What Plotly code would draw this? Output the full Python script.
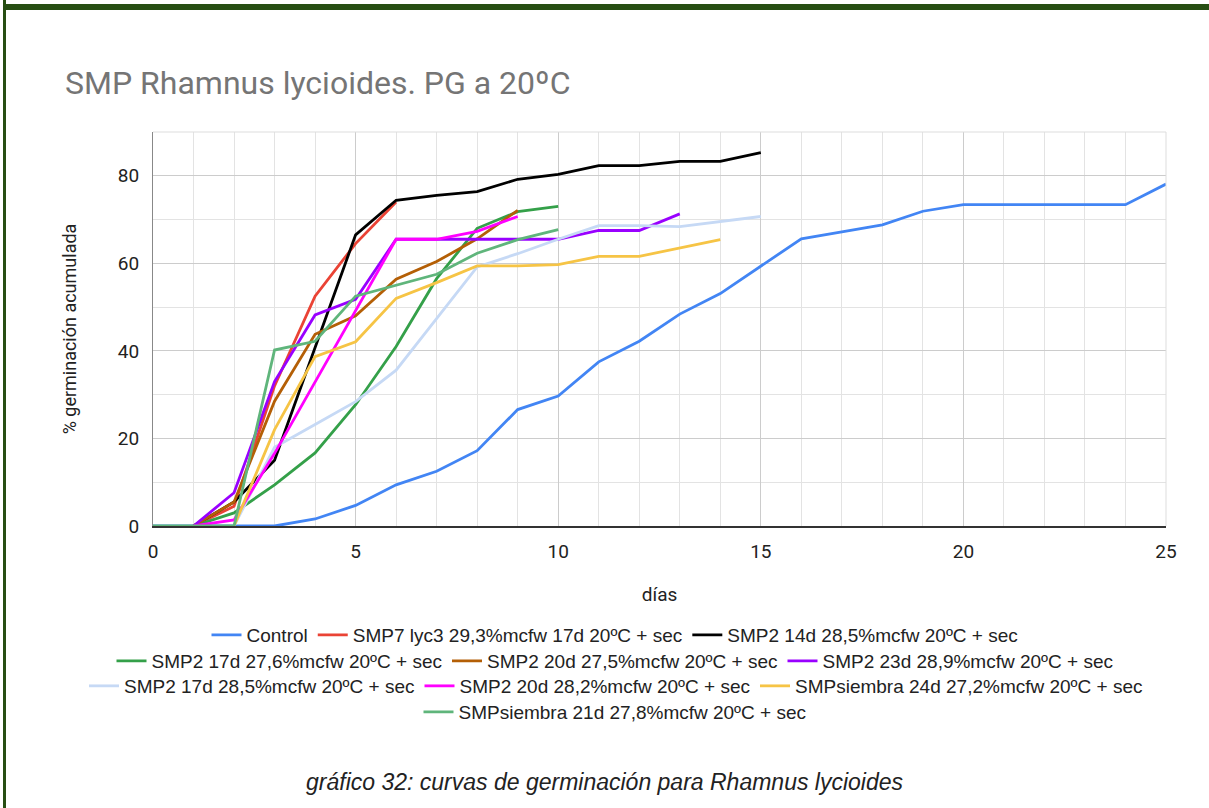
import plotly.graph_objects as go

# ---- data ----
names = [
    "Control",
    "SMP7 lyc3 29,3%mcfw 17d 20ºC + sec",
    "SMP2 14d 28,5%mcfw 20ºC + sec",
    "SMP2 17d 27,6%mcfw 20ºC + sec",
    "SMP2 20d 27,5%mcfw 20ºC + sec",
    "SMP2 23d 28,9%mcfw 20ºC + sec",
    "SMP2 17d 28,5%mcfw 20ºC + sec",
    "SMP2 20d 28,2%mcfw 20ºC + sec",
    "SMPsiembra 24d 27,2%mcfw 20ºC + sec",
    "SMPsiembra 21d 27,8%mcfw 20ºC + sec",
]

control_days = list(range(0, 26))
control_vals = [0, 0, 0, 0, 1.6, 4.7, 9.4, 12.5, 17.2, 26.6, 29.7, 37.5, 42.2, 48.4,
                53.1, 59.4, 65.6, 67.2, 68.8, 71.9, 73.4, 73.4, 73.4, 73.4, 73.4, 78.1]

smp7_days = list(range(1, 7))
smp7_vals = [0, 4.5, 32, 52.5, 64.5, 74]

smp2_14d_days = list(range(1, 16))
smp2_14d_vals = [0, 5.5, 15, 41, 66.5, 74.4, 75.5, 76.4, 79.2, 80.3, 82.3, 82.3, 83.3, 83.3, 85.3]

smp2_17d_276_days = list(range(1, 11))
smp2_17d_276_vals = [0, 3, 9.4, 16.7, 27.7, 41, 56.5, 68, 71.8, 73]

smp2_20d_275_days = list(range(1, 10))
smp2_20d_275_vals = [0, 5.5, 28.5, 43.8, 48, 56.4, 60.4, 65.6, 72.1]

smp2_23d_days = list(range(1, 14))
smp2_23d_vals = [0, 7.6, 33, 48.2, 51.8, 65.5, 65.5, 65.5, 65.5, 65.5, 67.5, 67.5, 71.3]

smp2_17d_285_days = list(range(2, 16))
smp2_17d_285_vals = [0, 18, 23.2, 28.4, 35.6, 47.5, 59.2, 62.2, 65.5, 68.6, 68.6, 68.4, 69.6, 70.7]

smp2_20d_282_days = list(range(1, 10))
smp2_20d_282_vals = [0, 1.4, 16.6, 33, 49.3, 65.5, 65.5, 67.3, 70.7]

siembra_24d_days = list(range(2, 15))
siembra_24d_vals = [0, 22, 38.7, 42.1, 52, 55.6, 59.4, 59.4, 59.7, 61.6, 61.6, 63.5, 65.4]

siembra_21d_days = list(range(0, 11))
siembra_21d_vals = [0, 0, 0, 40.2, 42.2, 52.5, 55, 57.5, 62.3, 65.4, 67.7]

colors = ["#4285f4", "#ea4335", "#000000", "#34a049", "#b45f06",
          "#9900ff", "#c6d9f5", "#ff00ff", "#f6c445", "#5fb57b"]

series_x = [control_days, smp7_days, smp2_14d_days, smp2_17d_276_days, smp2_20d_275_days,
            smp2_23d_days, smp2_17d_285_days, smp2_20d_282_days, siembra_24d_days, siembra_21d_days]
series_y = [control_vals, smp7_vals, smp2_14d_vals, smp2_17d_276_vals, smp2_20d_275_vals,
            smp2_23d_vals, smp2_17d_285_vals, smp2_20d_282_vals, siembra_24d_vals, siembra_21d_vals]

legend_rows = ["legend", "legend", "legend",
               "legend2", "legend2", "legend2",
               "legend3", "legend3", "legend3",
               "legend4"]

# ---- figure geometry (pixels) ----
W, H = 1209, 808
L, R, T, B = 153, 43, 132, 282
PW, PH = W - L - R, H - T - B


def px_x(p):
    return (p - L) / PW


def px_y(p):
    return (H - B - p) / PH


fig = go.Figure()
for n, xs, ys, c, lg in zip(names, series_x, series_y, colors, legend_rows):
    fig.add_trace(go.Scatter(x=xs, y=ys, mode="lines", name=n,
                             line=dict(color=c, width=2.8), legend=lg))

legend_font = dict(family="Liberation Sans, Arial, sans-serif", size=19, color="#222222")
axis_font = dict(family="Roboto, Arial, sans-serif", size=19, color="#222222")


def leg(ypix, left=None):
    d = dict(orientation="h", xref="paper", yref="paper", y=px_y(ypix), yanchor="middle",
             font=legend_font, bgcolor="rgba(0,0,0,0)", itemwidth=30, traceorder="normal")
    if left is None:
        d.update(x=px_x(615), xanchor="center")
    else:
        d.update(x=px_x(left), xanchor="left")
    return d


fig.update_layout(
    width=W, height=H,
    margin=dict(l=L, r=R, t=T, b=B),
    paper_bgcolor="white", plot_bgcolor="white",
    title=dict(text="SMP Rhamnus lycioides. PG a 20ºC", xref="container", yref="container",
               x=65 / W, xanchor="left", y=1 - 83 / H, yanchor="middle",
               font=dict(family="Roboto, Arial, sans-serif", size=32, color="#757575")),
    legend=leg(635), legend2=leg(661), legend3=leg(686, left=84), legend4=leg(712),
    xaxis=dict(range=[0, 25], dtick=5, tick0=0, showgrid=True, gridcolor="#cccccc",
               gridwidth=1, zeroline=False, showline=True, linecolor="#333333", linewidth=1.5,
               ticks="", ticklabelstandoff=7, tickfont=axis_font,
               minor=dict(dtick=1, showgrid=True, gridcolor="#e3e3e3", gridwidth=1),
               title=dict(text="días", standoff=26, font=axis_font)),
    yaxis=dict(range=[0, 90], tickvals=[0, 20, 40, 60, 80], showgrid=True, gridcolor="#cccccc",
               gridwidth=1, zeroline=False, showline=True, linecolor="#888888", linewidth=1,
               ticks="", ticklabelstandoff=9, tickfont=axis_font,
               minor=dict(tickvals=[10, 30, 50, 70, 90], showgrid=True, gridcolor="#e3e3e3",
                          gridwidth=1),
               title=dict(text="% germinación acumulada", standoff=36,
                          font=dict(family="Roboto, Arial, sans-serif", size=18, color="#222222"))),
    showlegend=True,
)

# outer frame (top and left border lines of the page)
fig.add_shape(type="rect", xref="paper", yref="paper",
              x0=px_x(3), x1=px_x(W + 10), y0=px_y(10), y1=px_y(4),
              fillcolor="#274e13", line=dict(width=0), layer="above")
fig.add_shape(type="rect", xref="paper", yref="paper",
              x0=px_x(3), x1=px_x(6), y0=px_y(H + 10), y1=px_y(0),
              fillcolor="#274e13", line=dict(width=0), layer="above")
# light plot border (top and right)
fig.add_shape(type="line", xref="paper", yref="paper", x0=0, x1=1, y0=1, y1=1,
              line=dict(color="#dddddd", width=1))
fig.add_shape(type="line", xref="paper", yref="paper", x0=1, x1=1, y0=0, y1=1,
              line=dict(color="#dddddd", width=1))

fig.add_annotation(text="gráfico 32: curvas de germinación para Rhamnus lycioides",
                   xref="paper", yref="paper", x=px_x(605), y=px_y(782),
                   xanchor="center", yanchor="middle", showarrow=False,
                   font=dict(family="Liberation Sans, Arial, sans-serif", size=23,
                             color="#222222", style="italic"))

fig.write_html("out.html", post_script="document.body.style.margin='0';",
               config={"displayModeBar": False})
